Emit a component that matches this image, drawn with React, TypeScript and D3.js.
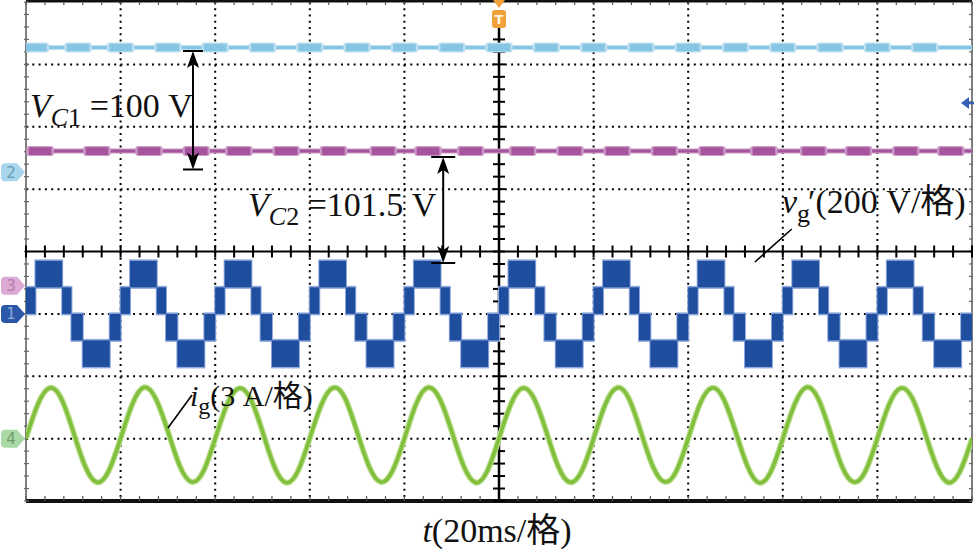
import * as d3 from "d3";

const WIDTH = 974;
const HEIGHT = 552;

// screen: 10 x 8 divisions, 20 ms per division
const X_DIVS = [0, 1, 2, 3, 4, 5, 6, 7, 8, 9, 10];
const Y_DIVS = [-4, -3, -2, -1, 0, 1, 2, 3, 4];
const MS_PER_DIV = 20;
const MINOR = 5;

// channel ground offsets (divisions) and scale (units per division)
const CH2 = { ground: 1.27, perDiv: 50 }; // VC1, V
const CH3 = { ground: -0.55, perDiv: 47 }; // VC2, V
const CH1 = { ground: -1.0, perDiv: 200 }; // vg', V
const CH4 = { ground: -3.0, perDiv: 3 }; // ig, A

// capacitor voltages and the centres (ms) of the wider ripple bursts
const VC1 = 100;
const VC2 = 101.5;
const vc1RippleMs = [2, 11, 20, 30, 40, 50, 60, 70, 80, 90, 100, 110, 120, 130, 140, 150, 160, 170, 180, 190];
const vc2RippleMs = [3, 15, 26, 36, 45, 55, 65, 75.5, 85, 94, 105, 115, 125, 135, 145, 156, 166.5, 176, 186, 195.5];

// vg': switching bands for one 20 ms period (five-level waveform)
const vgBandStart = [0, 2, 7.65, 9.6, 12, 17.7];
const vgBandEnd = [2, 7.65, 9.6, 12, 17.7, 20];
const vgBandLow = [0, 85, 0, -85, -170, -85];
const vgBandHigh = [85, 170, 85, 0, -85, 0];
const vgPeriodStart = [0, 20, 40, 60, 80, 100, 120, 140, 160, 180];

// ig: samples every 2.5 ms (A)
const IG_STEP_MS = 2.5;
const igAmps = [
  0.0, 1.65, 2.44, 1.91, 0.33, -1.33, -2.1, -1.55,
  0.01, 1.67, 2.47, 1.89, 0.35, -1.31, -2.08, -1.57,
  0.0, 1.64, 2.42, 1.9, 0.34, -1.34, -2.12, -1.56,
  0.02, 1.66, 2.45, 1.92, 0.33, -1.32, -2.09, -1.54,
  0.0, 1.68, 2.46, 1.9, 0.35, -1.3, -2.11, -1.57,
  0.01, 1.65, 2.43, 1.89, 0.34, -1.33, -2.1, -1.55,
  0.0, 1.66, 2.45, 1.91, 0.32, -1.32, -2.08, -1.56,
  0.01, 1.67, 2.44, 1.9, 0.35, -1.31, -2.12, -1.57,
  0.0, 1.65, 2.47, 1.92, 0.34, -1.33, -2.09, -1.55,
  0.02, 1.66, 2.43, 1.89, 0.33, -1.32, -2.11, -1.56,
  0.0,
];

const x = d3.scaleLinear().domain([0, 10 * MS_PER_DIV]).range([26, 972]);
const yDiv = d3.scaleLinear().domain([4, -4]).range([2, 501]);
const yOf = (ch: { ground: number; perDiv: number }, v: number) => yDiv(ch.ground + v / ch.perDiv);

const serif = "'Liberation Serif', 'Times New Roman', 'Noto Sans CJK SC', serif";

function markerPath(yc: number) {
  const x0 = 1, x1 = 17, tip = 25, h = 9, r = 4;
  return `M${x0 + r},${yc - h} H${x1} L${tip},${yc} L${x1},${yc + h} H${x0 + r} Q${x0},${yc + h} ${x0},${yc + h - r} V${yc - h + r} Q${x0},${yc - h} ${x0 + r},${yc - h} Z`;
}

function Arrow({ t, fromDiv, toDiv, half }: { t: number; fromDiv: number; toDiv: number; half: number }) {
  const cx = x(t);
  const y1 = yDiv(fromDiv);
  const y2 = yDiv(toDiv);
  return (
    <g>
      <line x1={cx - half} x2={cx + half} y1={y1} y2={y1} stroke="#000" strokeWidth={2} />
      <line x1={cx - half} x2={cx + half} y1={y2} y2={y2} stroke="#000" strokeWidth={2} />
      <line x1={cx} x2={cx} y1={y1 + 4} y2={y2 - 4} stroke="#000" strokeWidth={2} />
      <path d={`M${cx},${y1} L${cx - 6},${y1 + 17} L${cx},${y1 + 13} L${cx + 6},${y1 + 17} Z`} fill="#000" />
      <path d={`M${cx},${y2} L${cx - 6},${y2 - 17} L${cx},${y2 - 13} L${cx + 6},${y2 - 17} Z`} fill="#000" />
    </g>
  );
}

function DcTrace({ ch, level, ripple, color, halo }: any) {
  const yc = yOf(ch, level);
  const line = d3.line<number>().x((t) => x(t)).y(() => yc);
  return (
    <g>
      <path d={line([0, 200]) || ""} stroke={halo} strokeWidth={5} fill="none" />
      <path d={line([0, 200]) || ""} stroke={color} strokeWidth={3} fill="none" />
      {ripple.map((c: number, i: number) => (
        <g key={i}>
          <rect x={x(c - 2.9)} width={x(5.8) - x(0)} y={yc - 5} height={10} fill={halo} rx={3} />
          <rect x={x(c - 2.4)} width={x(4.8) - x(0)} y={yc - 3.8} height={7.6} fill={color} rx={1} />
        </g>
      ))}
    </g>
  );
}

export default function App() {
  const minorX = d3.range(0, 200.001, MS_PER_DIV / MINOR);
  const minorY = d3.range(-4, 4.001, 1 / MINOR);
  const top = yDiv(4);
  const bottom = yDiv(-4);
  const left = x(0);
  const right = x(200);

  const vgBands = vgPeriodStart.flatMap((p) =>
    vgBandStart.map((s, i) => ({ t0: p + s, t1: p + vgBandEnd[i], lo: vgBandLow[i], hi: vgBandHigh[i] }))
  );

  const igLine = d3
    .line<number>()
    .x((_, i) => x(i * IG_STEP_MS))
    .y((v) => yOf(CH4, v))
    .curve(d3.curveNatural);
  const igPath = igLine(igAmps) || "";

  const markers = [
    { y: yOf(CH2, 0), fill: "#a8d6ec", text: "#6a98b4", label: "2" },
    { y: yOf(CH3, 0), fill: "#dcaad4", text: "#b47cac", label: "3" },
    { y: yOf(CH1, 0), fill: "#2b58a8", text: "#8eaadc", label: "1" },
    { y: yOf(CH4, 0), fill: "#a9d9a6", text: "#6f9c6c", label: "4" },
  ];

  const levelY = yDiv(2.38);

  return (
    <div style={{ position: "absolute", left: 0, top: 0 }}>
      <svg width={WIDTH} height={HEIGHT} style={{ display: "block", background: "#fff" }}>
        <defs>
          <clipPath id="plot">
            <rect x={left} y={top} width={right - left} height={bottom - top} />
          </clipPath>
        </defs>

        {/* dotted grid */}
        {X_DIVS.filter((d) => d > 0 && d < 10 && d !== 5).map((d) => (
          <line key={"gx" + d} x1={x(d * MS_PER_DIV)} x2={x(d * MS_PER_DIV)} y1={top} y2={bottom}
            stroke="#000" strokeWidth={2} strokeDasharray="2 4.24" />
        ))}
        {Y_DIVS.filter((d) => d > -4 && d < 4 && d !== 0).map((d) => (
          <line key={"gy" + d} x1={left} x2={right} y1={yDiv(d)} y2={yDiv(d)}
            stroke="#000" strokeWidth={2} strokeDasharray="2 4.3" />
        ))}

        {/* frame */}
        <line x1={left} x2={left} y1={top} y2={bottom} stroke="#555" strokeWidth={1.5} />
        <line x1={right} x2={right} y1={top} y2={bottom} stroke="#555" strokeWidth={1.5} />
        <line x1={left} x2={right} y1={1} y2={1} stroke="#111" strokeWidth={3} />
        <line x1={left} x2={right} y1={bottom} y2={bottom} stroke="#111" strokeWidth={4} />
        {minorY.map((d, i) => (
          <g key={"ly" + i}>
            <line x1={left - 2} x2={left + 3} y1={yDiv(d)} y2={yDiv(d)} stroke="#666" strokeWidth={1.2} />
            <line x1={right - 3} x2={right + 1} y1={yDiv(d)} y2={yDiv(d)} stroke="#666" strokeWidth={1.2} />
          </g>
        ))}
        {minorX.map((t, i) => (
          <g key={"bx" + i}>
            <line x1={x(t)} x2={x(t)} y1={bottom - 5} y2={bottom} stroke="#555" strokeWidth={1.2} />
            <line x1={x(t)} x2={x(t)} y1={top} y2={top + 3} stroke="#555" strokeWidth={1.2} />
          </g>
        ))}

        {/* centre axes with ticks */}
        <line x1={left} x2={right} y1={yDiv(0)} y2={yDiv(0)} stroke="#000" strokeWidth={2} />
        {minorX.map((t, i) => (
          <line key={"cx" + i} x1={x(t)} x2={x(t)} y1={yDiv(0) - 6} y2={yDiv(0) + 6} stroke="#000" strokeWidth={2} />
        ))}
        <line x1={x(100)} x2={x(100)} y1={28} y2={bottom} stroke="#000" strokeWidth={2.5} />
        {minorY.filter((d) => yDiv(d) > 30).map((d, i) => (
          <line key={"cy" + i} x1={x(100) - 6} x2={x(100) + 6} y1={yDiv(d)} y2={yDiv(d)} stroke="#000" strokeWidth={2} />
        ))}

        <g clipPath="url(#plot)">
          {/* VC1 and VC2 */}
          <DcTrace ch={CH2} level={VC1} ripple={vc1RippleMs} color="#86c6e4" halo="#bfe0f0" />
          <DcTrace ch={CH3} level={VC2} ripple={vc2RippleMs} color="#a5549d" halo="#cc9ac6" />

          {/* vg' five-level PWM */}
          {vgBands.map((b, i) => (
            <rect key={"vh" + i} x={x(b.t0) - 1} width={x(b.t1) - x(b.t0) + 2}
              y={yOf(CH1, b.hi) - 1.5} height={yOf(CH1, b.lo) - yOf(CH1, b.hi) + 3} fill="#8ea8de" />
          ))}
          {vgBands.map((b, i) => (
            <rect key={"vc" + i} x={x(b.t0)} width={x(b.t1) - x(b.t0)}
              y={yOf(CH1, b.hi)} height={yOf(CH1, b.lo) - yOf(CH1, b.hi)} fill="#1f4e9e" />
          ))}

          {/* ig */}
          <path d={igPath} fill="none" stroke="#bde095" strokeWidth={6} />
          <path d={igPath} fill="none" stroke="#82bf3c" strokeWidth={3.6} />
        </g>

        {/* channel markers */}
        {markers.map((m) => (
          <g key={m.label}>
            <path d={markerPath(m.y)} fill={m.fill} />
            <text x={11} y={m.y + 5.5} textAnchor="middle" fontSize={15} fontFamily="'DejaVu Sans', sans-serif" fill={m.text}>
              {m.label}
            </text>
          </g>
        ))}

        {/* trigger marker */}
        <path d={`M${x(100) - 6},0 L${x(100) + 6},0 L${x(100)},8 Z`} fill="#f2a23a" />
        <rect x={x(100) - 7} y={10} width={14} height={18} rx={3} fill="#f2a23a" />
        <text x={x(100)} y={24} textAnchor="middle" fontSize={13} fontWeight="bold" fontFamily="'DejaVu Sans', sans-serif" fill="#fff4e0">T</text>

        {/* right-hand level marker */}
        <path d={`M${961},${levelY} L${969},${levelY - 6} L${969},${levelY + 6} Z`} fill="#3562b8" />
        <line x1={966} x2={974} y1={levelY} y2={levelY} stroke="#3562b8" strokeWidth={2.5} />

        {/* annotations */}
        <Arrow t={35.3} fromDiv={3.214} toDiv={1.315} half={10} />
        <Arrow t={88.2} fromDiv={1.515} toDiv={-0.184} half={12} />
        <line x1={x(161.9)} y1={yDiv(0.361)} x2={x(154.1)} y2={yDiv(-0.168)} stroke="#000" strokeWidth={1.6} />
        <line x1={x(35.1)} y1={yDiv(-2.3)} x2={x(30.0)} y2={yDiv(-2.83)} stroke="#000" strokeWidth={1.6} />

        <text x={30} y={117} fontSize={34} fontFamily={serif} fill="#111">
          <tspan fontStyle="italic">V</tspan>
          <tspan fontSize={26} dy={9} fontStyle="italic">C</tspan>
          <tspan fontSize={26}>1</tspan>
          <tspan dy={-9}>{"\u00a0=100\u00a0V"}</tspan>
        </text>
        <text x={248} y={216} fontSize={34} fontFamily={serif} fill="#111">
          <tspan fontStyle="italic">V</tspan>
          <tspan fontSize={26} dy={9} fontStyle="italic">C</tspan>
          <tspan fontSize={26}>2</tspan>
          <tspan dy={-9}>{"\u00a0=101.5\u00a0V"}</tspan>
        </text>
        <text x={782} y={213} fontSize={34} fontFamily={serif} fill="#111">
          <tspan fontStyle="italic">v</tspan>
          <tspan fontSize={26} dy={9}>g</tspan>
          <tspan dx={-2} dy={-9}>{"\u2032"}</tspan>
          <tspan>{"(200\u00a0V/格)"}</tspan>
        </text>
        <text x={190} y={406} fontSize={30} fontFamily={serif} fill="#111">
          <tspan fontStyle="italic">i</tspan>
          <tspan fontSize={24} dy={8}>g</tspan>
          <tspan dy={-8}>{"(3\u00a0A/格)"}</tspan>
        </text>
        <text x={497} y={542} textAnchor="middle" fontSize={34} fontFamily={serif} fill="#111">
          <tspan fontStyle="italic">t</tspan>
          <tspan>{"(20ms/格)"}</tspan>
        </text>
      </svg>
    </div>
  );
}
